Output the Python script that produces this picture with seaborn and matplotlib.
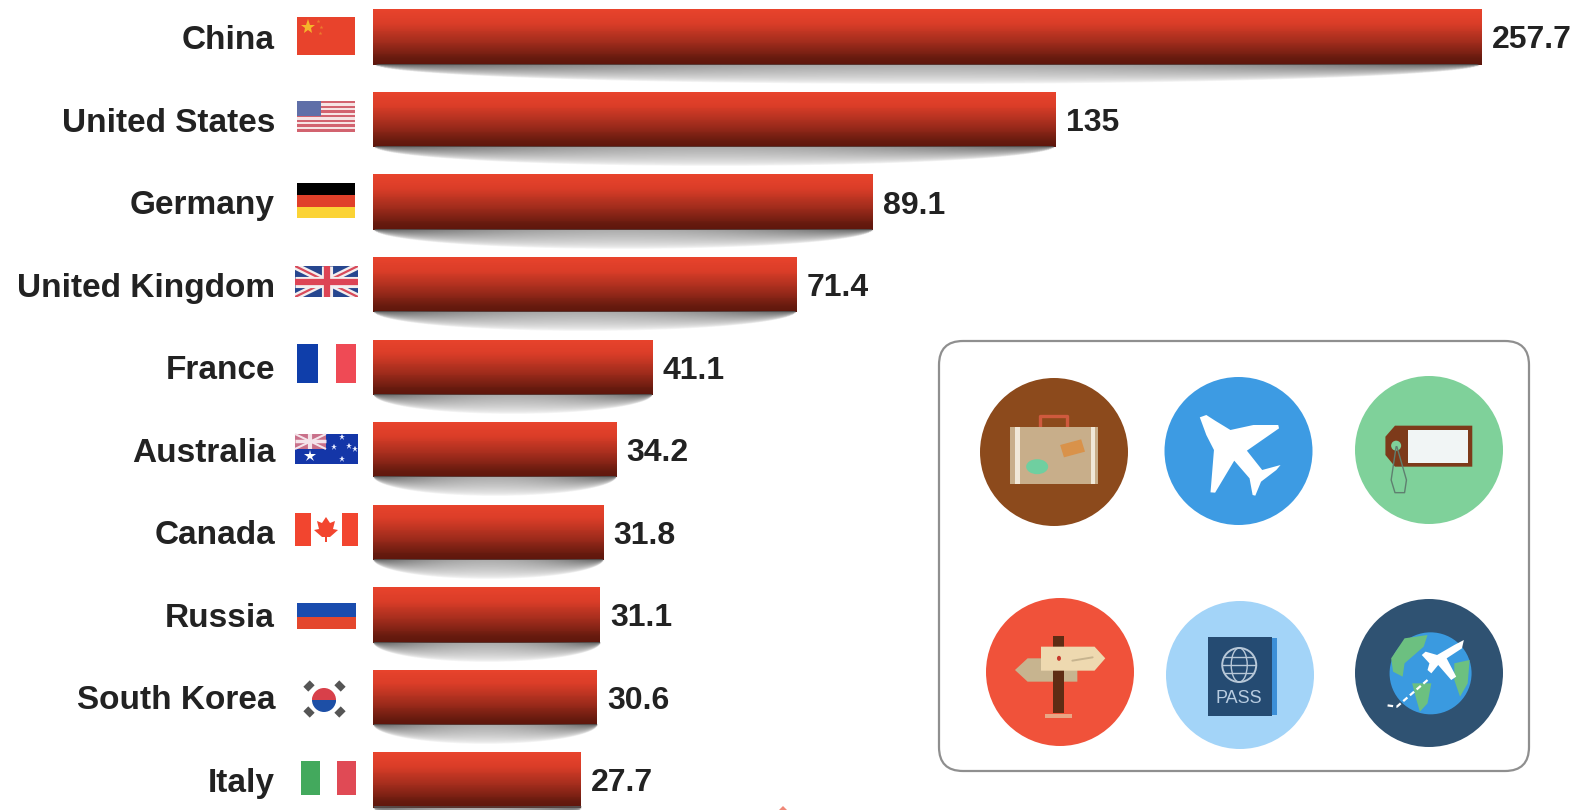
import numpy as np
import pandas as pd
import matplotlib
matplotlib.use("Agg")
import matplotlib.pyplot as plt
from matplotlib.colors import LinearSegmentedColormap
from matplotlib.patches import Rectangle, Circle, Wedge, Polygon, FancyBboxPatch, Ellipse
import seaborn as sns

countries = ["China", "United States", "Germany", "United Kingdom", "France",
             "Australia", "Canada", "Russia", "South Korea", "Italy"]
values = [257.7, 135, 89.1, 71.4, 41.1, 34.2, 31.8, 31.1, 30.6, 27.7]

sns.set_theme(style="white")
plt.rcParams["font.family"] = ["Liberation Sans", "DejaVu Sans"]
plt.rcParams["font.weight"] = "bold"

W, H = 1574, 810
fig = plt.figure(figsize=(W / 100, H / 100), dpi=100, facecolor="white")

# Main bar axes: compressed value scale, rows evenly spaced over the figure height.
ax = fig.add_axes([373 / W, 0, 1109 / W, 1])
df = pd.DataFrame({"country": countries, "value": values})
sns.barplot(data=df, x="value", y="country", orient="h", width=0.67,
            color="#b83220", ax=ax)
ax.set_xscale("function", functions=(lambda v: np.power(np.maximum(v, 0), 0.75),
                                     lambda p: np.power(np.maximum(p, 0), 1 / 0.75)))
ax.set_xlim(0, max(values))
ax.set_ylim(9.364, -0.448)
ax.set_xticks([])
ax.set_xlabel("")
ax.set_ylabel("")
ax.patch.set_alpha(0)
sns.despine(ax=ax, left=True, bottom=True)
ax.tick_params(axis="y", length=0, pad=70.5, labelsize=24, labelcolor="#222222")

# Glossy vertical shading on every bar.
gloss = LinearSegmentedColormap.from_list(
    "gloss", [(0, "#e8432c"), (0.25, "#da3d28"), (0.6, "#a02c1c"),
              (0.9, "#661a0e"), (1, "#5e160c")])
for patch, v in zip(ax.patches, values):
    top, bottom = patch.get_y(), patch.get_y() + patch.get_height()
    ys = np.linspace(top, bottom, 61)
    shade = np.linspace(0, 1, 60).reshape(-1, 1)
    ax.pcolormesh([0, v], ys, shade, cmap=gloss, vmin=0, vmax=1,
                  shading="flat", zorder=3, antialiased=False)
    ax.annotate(f"{v:g}", xy=(v, (top + bottom) / 2), xytext=(7, 0),
                textcoords="offset points", va="center_baseline", ha="left",
                fontsize=23, color="#222222", annotation_clip=False, zorder=4)

# Overlay in figure pixels for shadows, flags and the icon panel.
ov = fig.add_axes([0, 0, 1, 1], zorder=5)
ov.patch.set_alpha(0)
ov.axis("off")

fig.canvas.draw()
for patch in ax.patches:
    box = patch.get_window_extent()
    x0, x1 = box.x0, box.x1
    y_top = H - box.y0 - 1
    depth = 20
    xs = np.linspace(-1, 1, 300)
    dy = (np.arange(depth * 2) + 0.5) / 2
    u, d = np.meshgrid(xs, dy)
    reach = depth * np.sqrt(np.clip(1 - u ** 2, 0, 1)) + 1e-6
    fade = np.clip(1 - d / reach, 0, 1) ** 0.6
    strength = 1.0 - 0.5 * (1 - u ** 2)
    rgba = np.zeros(u.shape + (4,))
    rgba[..., :3] = 0.33
    rgba[..., 3] = fade * strength
    ov.imshow(rgba, extent=(x0, x1, y_top + depth, y_top), aspect="auto", zorder=1)


def rect(x0, y0, x1, y1, color, **kw):
    r = Rectangle((x0, y0), x1 - x0, y1 - y0, facecolor=color, edgecolor="none", zorder=3, **kw)
    ov.add_patch(r)
    return r


def poly(points, color, zorder=3):
    p = Polygon(points, closed=True, facecolor=color, edgecolor="none", zorder=zorder)
    ov.add_patch(p)
    return p


# China
rect(297, 17, 355, 55, "#e8432c")
ov.plot([308], [27], marker="*", ms=11, color="#f5b62a", zorder=4, mew=0)
for sx, sy in [(318, 21), (321, 27), (320, 33)]:
    ov.plot([sx], [sy], marker="*", ms=3, color="#ec7a2c", zorder=4, mew=0)

# United States
for i in range(13):
    y0 = 101 + i * 30.5 / 13
    rect(297, y0, 355, y0 + 30.5 / 13, "#d2636f" if i % 2 == 0 else "#f6e4e4")
rect(297, 101, 321, 116, "#5f6fa8").set_zorder(4)

# Germany
rect(297, 183, 355, 195, "#000000")
rect(297, 195, 355, 207, "#e0402a")
rect(297, 207, 355, 218, "#fbd335")

# United Kingdom
uk_clip = rect(295, 266, 358, 297, "#26468f")
for seg, lw, col in [(((295, 266), (358, 297)), 5, "#f3eeee"), (((295, 297), (358, 266)), 5, "#f3eeee"),
                     (((295, 266), (358, 297)), 1.6, "#d84a5a"), (((295, 297), (358, 266)), 1.6, "#d84a5a"),
                     (((326.5, 266), (326.5, 297)), 8, "#f3eeee"), (((295, 281.5), (358, 281.5)), 8, "#f3eeee"),
                     (((326.5, 266), (326.5, 297)), 4.5, "#dd4455"), (((295, 281.5), (358, 281.5)), 4.5, "#dd4455")]:
    line, = ov.plot(*zip(*seg), color=col, lw=lw, zorder=4, solid_capstyle="butt")
    line.set_clip_path(uk_clip)

# France
rect(297, 344, 318, 383, "#0f3eaa")
rect(336, 344, 356, 383, "#ef4a55")

# Australia
au_clip = rect(295, 434, 358, 464, "#1436a8")
rect(295, 434, 326, 449, "#c9708a").set_zorder(4)
for seg, lw in [(((295, 434), (326, 449)), 1.5), (((295, 449), (326, 434)), 1.5),
                (((310, 434), (310, 449)), 3), (((295, 441), (326, 441)), 2.5)]:
    ov.plot(*zip(*seg), color="#f4e4ea", lw=lw, zorder=5, solid_capstyle="butt")
ov.plot([310], [456], marker="*", ms=9, color="white", zorder=5, mew=0)
for sx, sy in [(342, 437), (349, 446), (334, 447), (342, 459), (355, 449)]:
    ov.plot([sx], [sy], marker="*", ms=4.5, color="#e8ecff", zorder=5, mew=0)

# Canada
rect(295, 513, 311, 546, "#f2452f")
rect(342, 513, 358, 546, "#f2452f")
poly([(326, 517), (330, 523), (335, 521), (333, 529), (338, 530), (330, 537),
      (327, 537), (327, 542), (325, 542), (325, 537), (322, 537), (314, 530),
      (319, 529), (317, 521), (322, 523)], "#f2452f")

# Russia
rect(297, 603, 356, 617, "#1a4cae")
rect(297, 617, 356, 629, "#e4472d")

# South Korea
ov.add_patch(Wedge((324, 700), 12, 180, 360, facecolor="#d8404a", edgecolor="none", zorder=3))
ov.add_patch(Wedge((324, 700), 12, 0, 180, facecolor="#1d4fa6", edgecolor="none", zorder=3))
ov.add_patch(Wedge((318, 700), 6, 180, 360, facecolor="#d8404a", edgecolor="none", zorder=4))
ov.add_patch(Wedge((330, 700), 6, 0, 180, facecolor="#1d4fa6", edgecolor="none", zorder=4))
for cx, cy in [(309, 686), (340, 686), (309, 712), (340, 712)]:
    angle = 45 if (cx < 324) == (cy > 700) else -45
    dx, dy = 4.5 * np.cos(np.radians(angle)), 4.5 * np.sin(np.radians(angle))
    ov.plot([cx - dx, cx + dx], [cy - dy, cy + dy], color="#555555", lw=5,
            zorder=3, solid_capstyle="butt")

# Italy
rect(301, 761, 320, 795, "#43a95d")
rect(337, 761, 356, 795, "#e04a55")

# Icon panel
ov.add_patch(FancyBboxPatch((959, 361), 550, 390, boxstyle="round,pad=20,rounding_size=24",
                            facecolor="white", edgecolor="#8f8f8f", lw=1.6, zorder=2))


def Z(x, y):
    # Panel artwork is laid out on a grid scaled 2.613 by 3 from the panel origin.
    return (930 + x / 2.613, 330 + y / 3)


def zpoly(points, color, zorder=4):
    return poly([Z(*p) for p in points], color, zorder)


def zrect(x0, y0, x1, y1, color, zorder=4):
    a, b = Z(x0, y0), Z(x1, y1)
    r = Rectangle(a, b[0] - a[0], b[1] - a[1], facecolor=color, edgecolor="none", zorder=zorder)
    ov.add_patch(r)
    return r


for cx, cy, col in [(1054, 452, "#8c4a1c"), (1238.5, 451, "#3d9be3"), (1429, 450, "#7fd19a"),
                    (1060, 672, "#f0523a"), (1240, 675, "#a3d4f8"), (1429, 673, "#2f5272")]:
    ov.add_patch(Circle((cx, cy), 74, facecolor=col, edgecolor="none", zorder=3))

# Suitcase
ov.plot(*zip(Z(288, 292), Z(288, 258), Z(358, 258), Z(358, 292)), color="#cf5a3e", lw=2.4, zorder=4)
zrect(210, 292, 440, 462, "#c8ae8a")
zrect(222, 292, 235, 462, "#f0e8d8", 5)
zrect(420, 292, 432, 462, "#f0e8d8", 5)
ov.add_patch(Ellipse(Z(280, 410), 22, 15, facecolor="#6fcfa0", edgecolor="none", zorder=5))
zpoly([(340, 345), (395, 328), (405, 365), (350, 382)], "#d9924a", 5)

# Plane
zpoly([(705, 262), (722, 255), (745, 272), (785, 300), (845, 285), (910, 285), (912, 295), (828, 362),
       (868, 420), (916, 405), (905, 420), (865, 455), (850, 497), (843, 495), (835, 445), (795, 392),
       (745, 488), (733, 487), (742, 360), (722, 315)], "#ffffff")

# Luggage tag
zpoly([(1215, 287), (1417, 287), (1417, 410), (1215, 410), (1190, 375), (1190, 320)], "#7d3a1a")
zrect(1250, 300, 1405, 398, "#f1f5f5", 5)
ov.add_patch(Ellipse(Z(1218, 347), 10, 10, facecolor="#7fd19a", edgecolor="none", zorder=5))
ov.plot(*zip(Z(1218, 350), Z(1205, 450), Z(1215, 488), Z(1240, 488), Z(1245, 450), Z(1220, 350)),
        color="#5f7f70", lw=1, zorder=5)

# Signpost
zpoly([(222, 1020), (255, 985), (385, 985), (385, 1055), (255, 1055)], "#c7b48f")
zrect(322, 918, 350, 1150, "#5e2c14", 5)
zrect(300, 1152, 372, 1165, "#e9a685", 5)
zpoly([(290, 950), (430, 950), (458, 985), (430, 1022), (290, 1022)], "#eed9b0", 6)
ov.add_patch(Ellipse(Z(337, 985), 4, 5, facecolor="#c8382c", edgecolor="none", zorder=7))
ov.plot(*zip(Z(372, 992), Z(425, 982)), color="#c7b48f", lw=1.4, zorder=7)

# Passport
zrect(893, 925, 908, 1155, "#3c8fd8")
zrect(727, 922, 893, 1158, "#254b72", 5)
gc = Z(808, 1005)
ov.add_patch(Circle(gc, 17, facecolor="none", edgecolor="#b8c8d8", lw=1.4, zorder=6))
ov.add_patch(Ellipse(gc, 16, 34, facecolor="none", edgecolor="#b8c8d8", lw=1, zorder=6))
for off in (-8, 0, 8):
    half = np.sqrt(17 ** 2 - off ** 2)
    ov.plot([gc[0] - half, gc[0] + half], [gc[1] + off, gc[1] + off], color="#b8c8d8", lw=1, zorder=6)
ov.text(*Z(808, 1105), "PASS", color="#b8cce0", fontsize=13, fontweight="normal",
        ha="center", va="center", zorder=6)

# Globe with plane
ov.add_patch(Circle(Z(1308, 1030), 41, facecolor="#3a9ae0", edgecolor="none", zorder=4))
zpoly([(1205, 985), (1240, 925), (1300, 915), (1290, 950), (1240, 1000), (1235, 1040), (1210, 1025)], "#6cc080", 5)
zpoly([(1260, 1060), (1310, 1060), (1300, 1120), (1280, 1145), (1270, 1105)], "#6cc080", 5)
zpoly([(1370, 1000), (1410, 990), (1405, 1060), (1385, 1100), (1370, 1050)], "#6cc080", 5)
zpoly([(1395, 930), (1390, 955), (1350, 985), (1375, 1040), (1362, 1050), (1328, 1005), (1310, 1030),
       (1300, 1020), (1305, 1000), (1285, 975), (1295, 965), (1325, 975), (1370, 945)], "#ffffff", 6)
ov.plot(*zip(Z(1300, 1050), Z(1250, 1100), Z(1220, 1130), Z(1188, 1125)), color="white", lw=1.6,
        ls=(0, (2.5, 1.5)), zorder=6)

# Edge of a mark cut off at the bottom of the figure
poly([(779, 810), (783, 806), (787, 810)], "#f08878")

ov.set_xlim(0, W)
ov.set_ylim(H, 0)

fig.savefig("out.png", dpi=100, facecolor="white")
